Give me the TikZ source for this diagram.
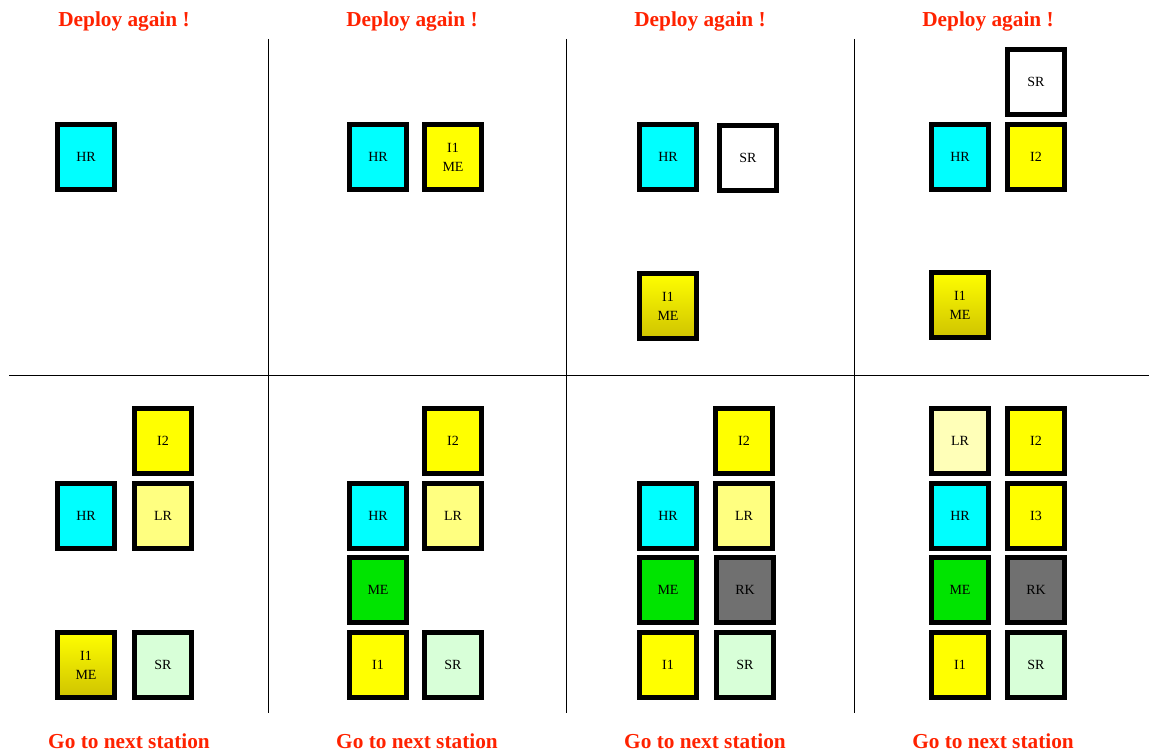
\documentclass[tikz,border=0pt]{standalone}
\usepackage{fontspec}
\setmainfont{Liberation Serif}
\definecolor{hrc}{HTML}{00FFFF}
\definecolor{yel}{HTML}{FFFF00}
\definecolor{lrc}{HTML}{FFFF80}
\definecolor{lrp}{HTML}{FFFFB8}
\definecolor{src}{HTML}{D8FFD8}
\definecolor{mec}{HTML}{00E400}
\definecolor{rkc}{HTML}{707070}
\definecolor{gradb}{HTML}{CFC300}
\definecolor{redt}{HTML}{FF2200}
\tikzset{
  box/.style={draw=black, line width=5pt, minimum width=57pt, minimum height=65pt, inner sep=0pt, font=\fontsize{14}{19}\selectfont, align=center},
  hr/.style={box, fill=hrc},
  yb/.style={box, fill=yel},
  lr/.style={box, fill=lrc},
  lrpale/.style={box, fill=lrp},
  sr/.style={box, fill=src},
  srw/.style={box, fill=white},
  me/.style={box, fill=mec},
  rk/.style={box, fill=rkc},
  grad/.style={box, top color=yel, bottom color=gradb},
  ttl/.style={text=redt, font=\bfseries\fontsize{21.3}{23}\selectfont},
  sep/.style={draw=black, line width=1pt}
}
\begin{document}
\begin{tikzpicture}[x=1pt,y=-1pt]
\useasboundingbox (0,0) rectangle (1149,751);
% separators
\coordinate (v1t) at (268,39); \coordinate (v1b) at (268,713);
\coordinate (v2t) at (566,39); \coordinate (v2b) at (566,713);
\coordinate (v3t) at (854,39); \coordinate (v3b) at (854,713);
\coordinate (hl) at (9,376); \coordinate (hr) at (1149,376);
\draw[sep] (v1t) -- (v1b);
\draw[sep] (v2t) -- (v2b);
\draw[sep] (v3t) -- (v3b);
\draw[sep] (hl) -- (hr);
% titles
\node[ttl] (t1) at (124,21) {Deploy again !};
\node[ttl] (t2) at (412,21) {Deploy again !};
\node[ttl] (t3) at (700,21) {Deploy again !};
\node[ttl] (t4) at (988,21) {Deploy again !};
\node[ttl] (g1) at (129,741) {Go to next station};
\node[ttl] (g2) at (417,741) {Go to next station};
\node[ttl] (g3) at (705,741) {Go to next station};
\node[ttl] (g4) at (993,741) {Go to next station};
% panel 1
\node[hr] (p1hr) at (86,157) {HR};
% panel 2
\node[hr] (p2hr) at (378,157) {HR};
\node[yb] (p2i1) at (453,157) {I1\\ME};
% panel 3
\node[hr] (p3hr) at (668,157) {HR};
\node[srw] (p3sr) at (748,158) {SR};
\node[grad] (p3i1) at (668,306) {I1\\ME};
% panel 4
\node[srw] (p4sr) at (1036,82) {SR};
\node[hr] (p4hr) at (960,157) {HR};
\node[yb] (p4i2) at (1036,157) {I2};
\node[grad] (p4i1) at (960,305) {I1\\ME};
% panel 5
\node[yb] (p5i2) at (163,441) {I2};
\node[hr] (p5hr) at (86,516) {HR};
\node[lr] (p5lr) at (163,516) {LR};
\node[grad] (p5i1) at (86,665) {I1\\ME};
\node[sr] (p5sr) at (163,665) {SR};
% panel 6
\node[yb] (p6i2) at (453,441) {I2};
\node[hr] (p6hr) at (378,516) {HR};
\node[lr] (p6lr) at (453,516) {LR};
\node[me] (p6me) at (378,590) {ME};
\node[yb] (p6i1) at (378,665) {I1};
\node[sr] (p6sr) at (453,665) {SR};
% panel 7
\node[yb] (p7i2) at (744,441) {I2};
\node[hr] (p7hr) at (668,516) {HR};
\node[lr] (p7lr) at (744,516) {LR};
\node[me] (p7me) at (668,590) {ME};
\node[rk] (p7rk) at (745,590) {RK};
\node[yb] (p7i1) at (668,665) {I1};
\node[sr] (p7sr) at (745,665) {SR};
% panel 8
\node[lrpale] (p8lr) at (960,441) {LR};
\node[yb] (p8i2) at (1036,441) {I2};
\node[hr] (p8hr) at (960,516) {HR};
\node[yb] (p8i3) at (1036,516) {I3};
\node[me] (p8me) at (960,590) {ME};
\node[rk] (p8rk) at (1036,590) {RK};
\node[yb] (p8i1) at (960,665) {I1};
\node[sr] (p8sr) at (1036,665) {SR};
\end{tikzpicture}
\end{document}
